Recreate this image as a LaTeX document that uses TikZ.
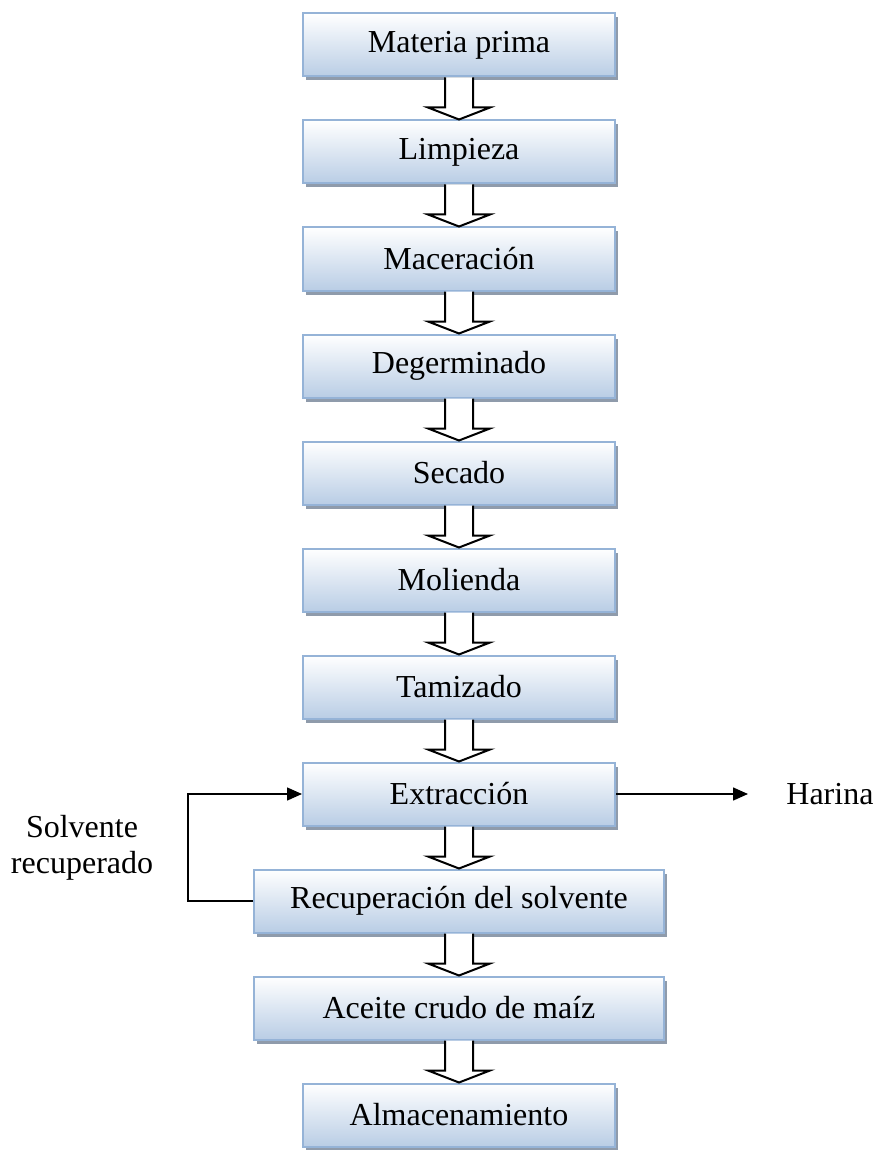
\documentclass[tikz,border=0pt]{standalone}
\usepackage{fontspec}
\setmainfont{Liberation Serif}
\usetikzlibrary{arrows.meta, positioning, shadows, calc}

\definecolor{boxblue}{HTML}{B9CDE5}
\definecolor{boxedge}{HTML}{95B3D7}
\definecolor{shadowgray}{HTML}{8F9BAB}

\begin{document}
\begin{tikzpicture}[
				node distance=21pt,
				% Defining node styles
				stage/.style={rectangle, draw=boxedge, line width=1pt, top color=white, bottom color=boxblue, minimum height=31.5pt, minimum width=156pt, font=\fontsize{16}{18}\selectfont, drop shadow={shadow xshift=1.5pt, shadow yshift=-2pt, fill=shadowgray, opacity=1}},
				widestage/.style={stage, minimum width=205pt},
				hollow/.style={draw=black, line width=1pt, fill=white, line join=miter},
				connector/.style={-{Triangle[length=7.5pt, width=6.5pt]}, line width=0.75pt},
				note/.style={inner sep=0pt, font=\fontsize{16}{18}\selectfont, align=center}
			]
			\useasboundingbox (0,0) rectangle (437.5pt,-575pt);

			% Placing process stages vertically
			\node[stage] (mat) at (229.5pt,-22.5pt) {Materia prima};
			\node[stage, below=of mat] (lim) {Limpieza};
			\node[stage, below=of lim] (mac) {Maceración};
			\node[stage, below=of mac] (deg) {Degerminado};
			\node[stage, below=of deg] (sec) {Secado};
			\node[stage, below=of sec] (mol) {Molienda};
			\node[stage, below=of mol] (tam) {Tamizado};
			\node[stage, below=of tam] (ext) {Extracción};
			\node[widestage, below=of ext] (rec) {Recuperación del solvente};
			\node[widestage, below=of rec] (ace) {Aceite crudo de maíz};
			\node[stage, below=of ace] (alm) {Almacenamiento};

			% Side labels
			\node[note, right=85pt of ext] (har) {Harina};
			\coordinate (mid) at ($(ext.west)!0.5!(rec.west)$);
			\node[note, left=62pt of mid] (solv) {Solvente\\recuperado};

			% Drawing hollow block arrows
			\foreach \a/\b in {mat/lim, lim/mac, mac/deg, deg/sec, sec/mol, mol/tam, tam/ext, ext/rec, rec/ace, ace/alm} {
				\filldraw[hollow] ($(\a.south)+(-7pt,0)$) -- ($(\b.north)+(-7pt,6pt)$) -- ($(\b.north)+(-15.5pt,6pt)$) -- (\b.north) -- ($(\b.north)+(15.5pt,6pt)$) -- ($(\b.north)+(7pt,6pt)$) -- ($(\a.south)+(7pt,0)$);
			}

			% Drawing solvent loop and output
			\draw[connector] (rec.west) -- ++(-32.5pt,0) |- (ext.west);
			\draw[connector, shorten >=19pt] (ext.east) -- (har.west);

		\end{tikzpicture}
\end{document}
